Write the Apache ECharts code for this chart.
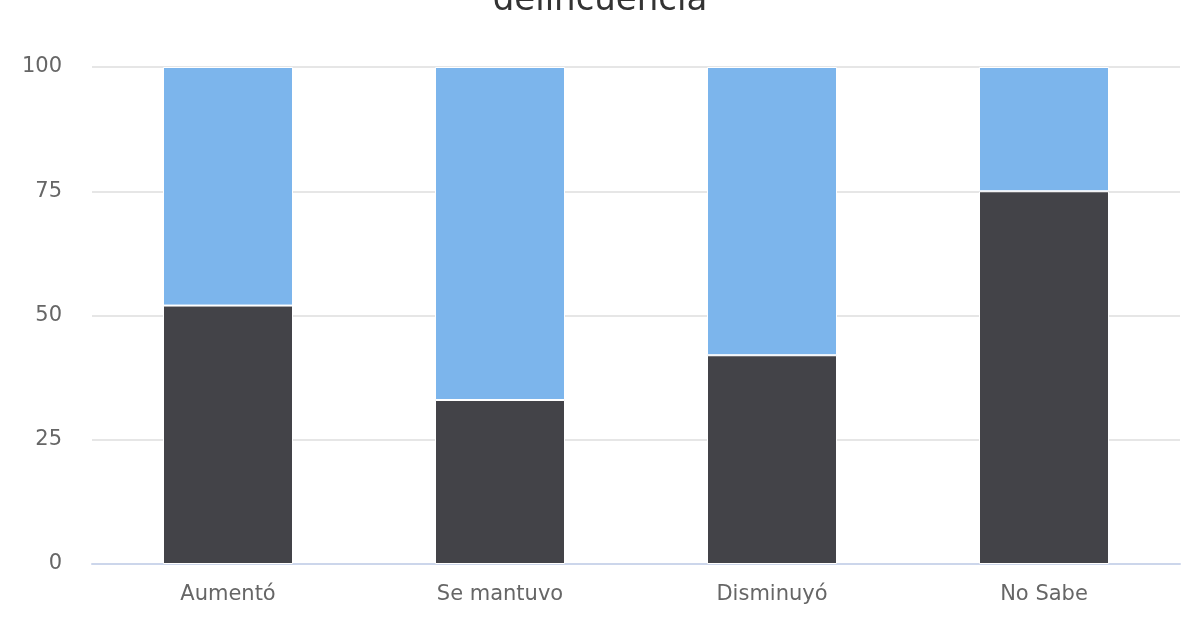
<!DOCTYPE html>
<html>
<head>
<meta charset="utf-8">
<script src="https://cdn.jsdelivr.net/npm/echarts@6/dist/echarts.min.js"></script>
<style>
  html, body { margin: 0; padding: 0; background: #fff; }
  #main { width: 1200px; height: 640px; }
</style>
</head>
<body>
<div id="main"></div>
<script>
var categories = ['Aumentó', 'Se mantuvo', 'Disminuyó', 'No Sabe'];
var darkValues = [52, 33, 42, 75];
var blueValues = [48, 67, 58, 25];
var yTicks = [0, 25, 50, 75, 100];

var myChart = echarts.init(document.getElementById('main'));
var option = {
    backgroundColor: '#fff',
    animation: false,
    textStyle: { fontFamily: 'DejaVu Sans' },
    title: {
        text: 'delincuencia',
        left: 'center',
        top: -21,
        textStyle: { fontSize: 34, fontWeight: 'normal', color: '#333333', fontFamily: 'DejaVu Sans' }
    },
    grid: {
        left: 92,
        right: 20,
        top: 67,
        bottom: 76
    },
    xAxis: {
        type: 'category',
        data: categories,
        axisLine: { lineStyle: { color: '#ccd6eb', width: 2 } },
        axisTick: { show: false },
        axisLabel: { color: '#666666', fontSize: 21, margin: 20 }
    },
    yAxis: {
        type: 'value',
        min: yTicks[0],
        max: yTicks[yTicks.length - 1],
        interval: 25,
        axisLine: { show: false },
        axisTick: { show: false },
        axisLabel: { color: '#666666', fontSize: 21, margin: 30, padding: [6, 0, 0, 0] },
        splitLine: { lineStyle: { color: '#e6e6e6', width: 2 } }
    },
    series: [
        {
            type: 'bar',
            stack: 'total',
            data: darkValues,
            barWidth: 130,
            itemStyle: { color: '#434348', borderColor: '#ffffff', borderWidth: 1 }
        },
        {
            type: 'bar',
            stack: 'total',
            data: blueValues,
            barWidth: 130,
            itemStyle: { color: '#7cb5ec', borderColor: '#ffffff', borderWidth: 1 }
        }
    ]
};
myChart.setOption(option);
</script>
</body>
</html>
